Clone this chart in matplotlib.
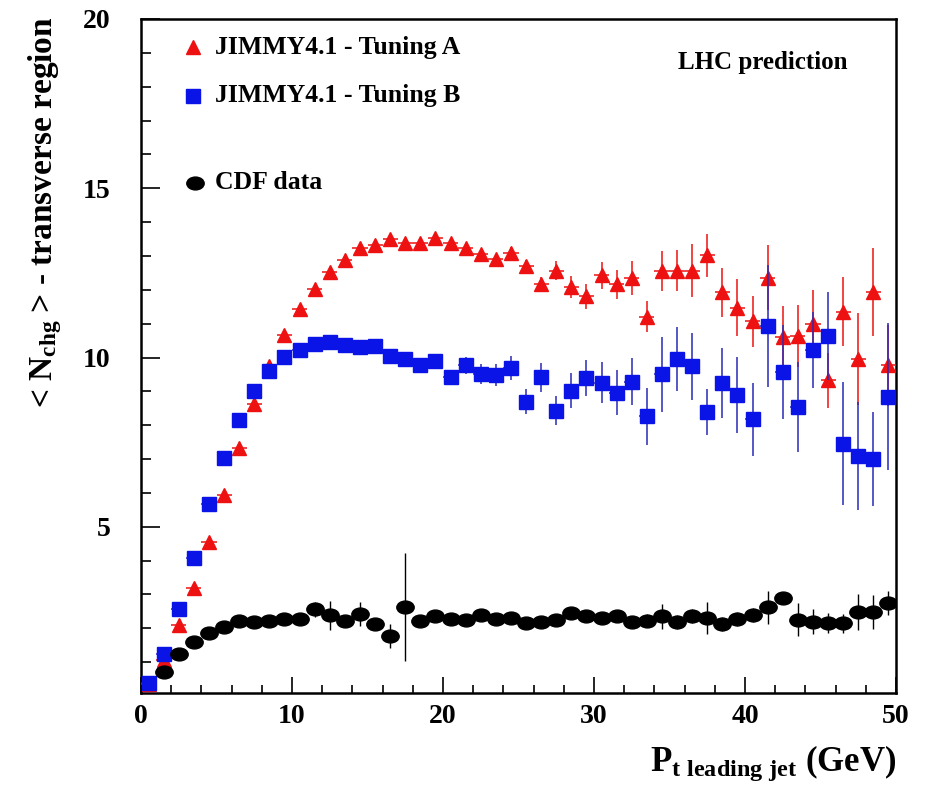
import numpy as np
import matplotlib
matplotlib.use("Agg")
import matplotlib.pyplot as plt
from matplotlib.path import Path
from matplotlib.ticker import MultipleLocator

plt.rcParams['font.family'] = ['Liberation Serif', 'DejaVu Serif']
plt.rcParams['font.weight'] = 'bold'
plt.rcParams['mathtext.fontset'] = 'custom'
plt.rcParams['mathtext.rm'] = 'Liberation Serif:bold'
plt.rcParams['mathtext.bf'] = 'Liberation Serif:bold'
plt.rcParams['mathtext.it'] = 'Liberation Serif:bold'

# ---- data ----
pt_bins = np.arange(0.5, 50, 1.0)

tuneA = [0.35, 1.07, 2.10, 3.20, 4.54, 5.95, 7.33, 8.64, 9.74, 10.68,
         11.42, 12.03, 12.52, 12.87, 13.24, 13.32, 13.49, 13.39, 13.39, 13.54,
         13.39, 13.24, 13.05, 12.90, 13.10, 12.70, 12.16, 12.57, 12.09, 11.81,
         12.43, 12.16, 12.36, 11.20, 12.55, 12.57, 12.57, 13.02, 11.93, 11.47,
         11.07, 12.36, 10.61, 10.63, 11.00, 9.33, 11.35, 9.96, 11.95, 9.77]
tuneA_err = [0.03, 0.04, 0.05, 0.05, 0.05, 0.06, 0.06, 0.07, 0.07, 0.08,
             0.08, 0.09, 0.09, 0.10, 0.10, 0.10, 0.11, 0.12, 0.12, 0.13,
             0.13, 0.14, 0.15, 0.16, 0.17, 0.18, 0.22, 0.27, 0.32, 0.37,
             0.40, 0.42, 0.50, 0.46, 0.59, 0.60, 0.78, 0.64, 0.72, 0.84,
             0.75, 0.95, 0.90, 0.92, 1.00, 0.81, 1.02, 1.35, 1.30, 1.20]

tuneB = [0.39, 1.24, 2.58, 4.09, 5.67, 7.03, 8.15, 9.00, 9.60, 10.03,
         10.23, 10.41, 10.45, 10.38, 10.30, 10.35, 10.04, 9.96, 9.77, 9.91,
         9.42, 9.77, 9.52, 9.48, 9.69, 8.69, 9.42, 8.43, 9.02, 9.40,
         9.26, 8.96, 9.29, 8.26, 9.50, 9.96, 9.74, 8.38, 9.25, 8.90,
         8.17, 10.93, 9.57, 8.54, 10.21, 10.63, 7.45, 7.10, 7.00, 8.84]
tuneB_err = [0.03, 0.04, 0.05, 0.05, 0.06, 0.06, 0.07, 0.07, 0.08, 0.08,
             0.09, 0.09, 0.10, 0.10, 0.11, 0.11, 0.12, 0.13, 0.14, 0.16,
             0.20, 0.25, 0.30, 0.33, 0.35, 0.37, 0.43, 0.43, 0.52, 0.54,
             0.61, 0.66, 0.69, 0.83, 1.12, 0.94, 0.99, 0.68, 1.03, 1.13,
             1.09, 1.81, 1.40, 1.33, 1.12, 1.30, 1.82, 1.60, 1.38, 2.17]

cdf_x = np.arange(1.5, 50, 1.0)
cdf = [0.70, 1.24, 1.61, 1.87, 2.05, 2.23, 2.19, 2.21, 2.28, 2.28,
       2.56, 2.38, 2.23, 2.43, 2.13, 1.78, 2.64, 2.23, 2.35, 2.28,
       2.25, 2.40, 2.27, 2.32, 2.15, 2.18, 2.25, 2.45, 2.35, 2.32,
       2.37, 2.19, 2.23, 2.35, 2.19, 2.37, 2.30, 2.13, 2.28, 2.40,
       2.62, 2.91, 2.25, 2.19, 2.15, 2.15, 2.49, 2.48, 2.74]
cdf_err = [0.05, 0.06, 0.07, 0.08, 0.09, 0.10, 0.10, 0.12, 0.12, 0.13,
           0.22, 0.42, 0.15, 0.36, 0.18, 0.35, 1.60, 0.12, 0.12, 0.12,
           0.12, 0.14, 0.14, 0.15, 0.15, 0.15, 0.16, 0.16, 0.16, 0.17,
           0.18, 0.18, 0.20, 0.38, 0.20, 0.20, 0.47, 0.20, 0.20, 0.20,
           0.48, 0.15, 0.49, 0.37, 0.30, 0.28, 0.53, 0.50, 0.35]

legend_labels = ["JIMMY4.1 - Tuning A", "JIMMY4.1 - Tuning B", "CDF data"]

# ---- figure ----
fig = plt.figure(figsize=(9.3, 7.85), dpi=100)
ax = fig.add_axes([141/930, 1-693/785, 755/930, 674/785])

ell = Path.unit_circle()
ell = Path(ell.vertices * np.array([1.0, 0.74]), ell.codes)

ax.errorbar(pt_bins, tuneA, yerr=tuneA_err, xerr=0.5, fmt='^', color='#ee1111',
            ms=10, mec='#ee1111', elinewidth=1.1, capsize=0, zorder=3)
ax.errorbar(pt_bins, tuneB, yerr=tuneB_err, xerr=0.5, fmt='s', color='#0a14e6',
            ms=9.8, mec='#0a14e6', ecolor='#2a2ab8', elinewidth=1.1, capsize=0, zorder=4)
ax.errorbar(cdf_x, cdf, yerr=cdf_err, fmt='none', ecolor='black',
            elinewidth=1.0, capsize=0, zorder=5)
ax.plot(cdf_x, cdf, linestyle='none', marker=ell, ms=12.5, color='black', zorder=6)

ax.set_xlim(0, 50)
ax.set_ylim(0.09, 20)
ax.xaxis.set_major_locator(MultipleLocator(10))
ax.xaxis.set_minor_locator(MultipleLocator(2))
ax.yaxis.set_major_locator(MultipleLocator(5))
ax.yaxis.set_minor_locator(MultipleLocator(1))
ax.set_yticks([5, 10, 15, 20])
ax.tick_params(axis='both', which='both', direction='in', top=False, right=False,
               width=1.2, labelsize=20)
ax.tick_params(axis='y', which='major', length=14, pad=22)
ax.tick_params(axis='y', which='minor', length=7)
ax.tick_params(axis='x', which='major', length=11.5, pad=8)
ax.tick_params(axis='x', which='minor', length=5.5)
for lbl in ax.get_xticklabels() + ax.get_yticklabels():
    lbl.set_fontweight('bold')
for s in ax.spines.values():
    s.set_linewidth(1.8)

# legend (manual layout like the original)
ly = [0.958, 0.886, 0.757]
ax.plot([0.069], [ly[0]], transform=ax.transAxes, marker='^', ms=10,
        color='#ee1111', linestyle='none', clip_on=False)
ax.plot([0.069], [ly[1]], transform=ax.transAxes, marker='s', ms=9.8,
        color='#0a14e6', linestyle='none', clip_on=False)
ax.plot([0.071], [ly[2]], transform=ax.transAxes, marker=ell, ms=12.5,
        color='black', linestyle='none', clip_on=False)
for yy, t in zip(ly, legend_labels):
    ax.text(0.098, yy, t, transform=ax.transAxes, fontsize=18.5, fontweight='bold',
            va='center', ha='left')

ax.text(0.824, 0.936, "LHC prediction", transform=ax.transAxes, fontsize=18,
        fontweight='bold', ha='center', va='center')

fig.text(45/930, 1-212/785, r'< N$_{\mathrm{chg}}$ > - transverse region',
         rotation=90, fontsize=24, fontweight='bold', ha='center', va='center')
fig.text(896/930, 1-771/785, r'P$_{\mathrm{t\ leading\ jet}}$ (GeV)',
         fontsize=25, fontweight='bold', ha='right', va='baseline')

fig.savefig("out.png", dpi=100)
